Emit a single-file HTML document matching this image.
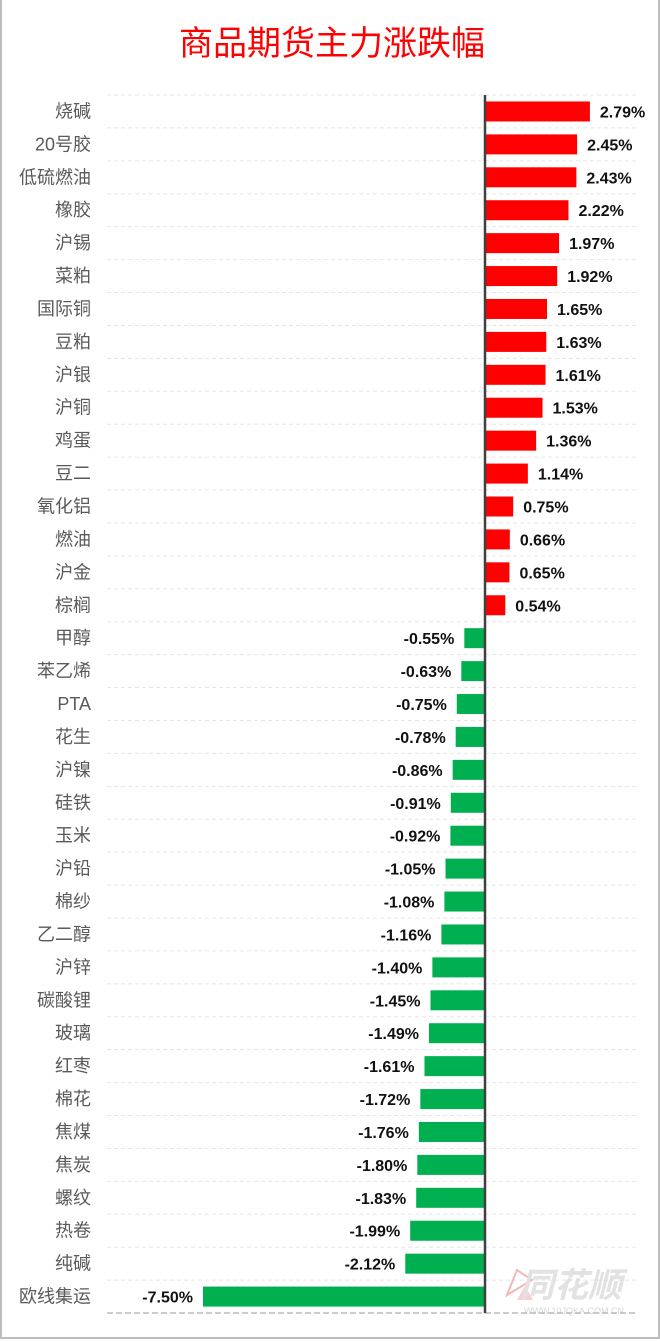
<!DOCTYPE html>
<html><head><meta charset="utf-8">
<style>
html,body{margin:0;padding:0;background:#fff}
#wrap{position:relative;width:656px;height:1337px;border:2px solid #bdbdbd;border-top:none;overflow:hidden;background:#fff}
</style></head>
<body>
<div id="wrap">
<svg id="chart" width="656" height="1337">
<text x="330" y="55" text-anchor="middle" font-family="'Liberation Sans','Noto Sans CJK SC',sans-serif" font-size="34" fill="#ff0000">商品期货主力涨跌幅</text>
<g id="grid"></g><g id="bars"></g><g id="labels"></g><g id="vals"></g>
<g opacity="0.6">
<path d="M505 1295 l10 -25 l15 10 z" fill="none" stroke="#e88" stroke-width="2"/>
<path d="M515 1300 l8 -14 l8 14 z" fill="#f6b0b0"/>
<text x="518" y="1297" font-family="'Liberation Sans','Noto Sans CJK SC',sans-serif" font-size="34" font-style="italic" font-weight="bold" fill="#d0d0d0">同花顺</text>
<text x="522" y="1314" font-family="'Liberation Sans',sans-serif" font-size="9" fill="#bbb">WWW.10JQKA.COM.CN</text>
</g>
</svg>
</div>
<script>
const categories=["烧碱","20号胶","低硫燃油","橡胶","沪锡","菜粕","国际铜","豆粕","沪银","沪铜","鸡蛋","豆二","氧化铝","燃油","沪金","棕榈","甲醇","苯乙烯","PTA","花生","沪镍","硅铁","玉米","沪铅","棉纱","乙二醇","沪锌","碳酸锂","玻璃","红枣","棉花","焦煤","焦炭","螺纹","热卷","纯碱","欧线集运"];
const values=[2.79,2.45,2.43,2.22,1.97,1.92,1.65,1.63,1.61,1.53,1.36,1.14,0.75,0.66,0.65,0.54,-0.55,-0.63,-0.75,-0.78,-0.86,-0.91,-0.92,-1.05,-1.08,-1.16,-1.40,-1.45,-1.49,-1.61,-1.72,-1.76,-1.80,-1.83,-1.99,-2.12,-7.50];
const NS="http://www.w3.org/2000/svg";
const x0=483,pxPer=37.6,top0=95,step=32.92,barH=20;
const xS=v=>x0+v*pxPer;
const yS=i=>top0+i*step;
function mk(t,a,p){const e=document.createElementNS(NS,t);for(const k in a)e.setAttribute(k,a[k]);p.appendChild(e);return e;}
const G=document.getElementById('grid'),B=document.getElementById('bars'),L=document.getElementById('labels'),V=document.getElementById('vals');
for(let i=0;i<categories.length;i++){
 const gl=mk('line',{x1:105,x2:635,y1:yS(i),y2:yS(i),stroke:'#e6e6e6','stroke-dasharray':'4,3'},G);
 
 
 const v=values[i],cy=yS(i)+step/2;
 const r=mk('rect',{x:Math.min(xS(0),xS(v)),y:cy-barH/2,width:Math.abs(xS(v)-xS(0)),height:barH,fill:v>=0?'#ff0000':'#00b050'},B);
 
 
 const t=mk('text',{x:89,y:cy+6,'text-anchor':'end','font-size':18,fill:'#5a5a5a','font-family':"'Liberation Sans','Noto Sans CJK SC',sans-serif"},L);
 t.textContent=categories[i];
 
 
 const vt=mk('text',{x:v>=0?xS(v)+10:xS(v)-10,y:cy+6,'text-anchor':v>=0?'start':'end','font-size':16,'font-weight':'bold',fill:'#111','font-family':"'Liberation Sans',sans-serif"},V);
 vt.textContent=v.toFixed(2)+'%';
 
 
}
const by=yS(categories.length);
const bl=mk('line',{x1:105,x2:635,y1:by,y2:by,stroke:'#bbb','stroke-width':1.5,'stroke-dasharray':'6,3'},G);


const ax=mk('line',{x1:xS(0),x2:xS(0),y1:top0,y2:by,stroke:'#404040','stroke-width':2.5},B);


</script>
</body></html>
